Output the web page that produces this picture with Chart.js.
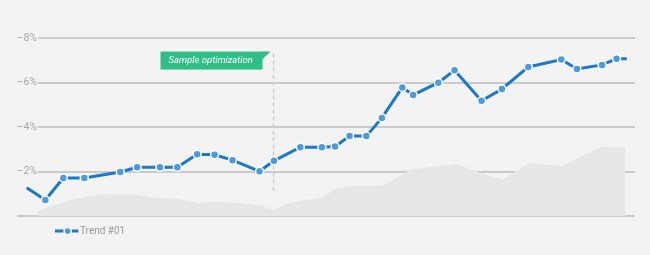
<!DOCTYPE html>
<html><head><meta charset="utf-8">
<script src="https://cdn.jsdelivr.net/npm/chart.js@4.4.1/dist/chart.umd.min.js"></script>
<style>html,body{margin:0;padding:0;background:#f3f3f3;}canvas{display:block}</style>
</head><body>
<canvas id="c" width="650" height="255"></canvas>
<script>
// ---- data ----
const seriesLabel = 'Trend #01';
const trendX = [0, 3.1, 6.1, 9.6, 15.6, 18.4, 22.2, 25.1, 28.4, 31.3, 34.3, 38.8, 41.2, 45.6, 49.2, 51.4, 53.8, 56.6, 59.2, 62.6, 64.4, 68.6, 71.3, 75.8, 79.2, 83.6, 89.1, 91.7, 95.9, 98.3, 100];
const trendY = [1.27, 0.72, 1.71, 1.71, 1.98, 2.19, 2.19, 2.19, 2.78, 2.75, 2.51, 2.01, 2.48, 3.09, 3.09, 3.12, 3.59, 3.59, 4.41, 5.78, 5.44, 5.99, 6.55, 5.18, 5.71, 6.70, 7.03, 6.61, 6.79, 7.07, 7.07];
const areaX = [0.3, 3.6, 8.1, 12.5, 18.6, 21.4, 25.3, 28.6, 31.4, 35.8, 39.2, 41.1, 43.6, 46.4, 49.0, 51.4, 53.9, 59.2, 64.2, 71.7, 74.4, 79.2, 83.8, 89.2, 95.8, 99.7, 99.7];
const areaY = [0, 0.42, 0.77, 0.98, 0.95, 0.82, 0.77, 0.57, 0.64, 0.57, 0.45, 0.27, 0.57, 0.72, 0.80, 1.22, 1.35, 1.35, 2.10, 2.33, 2.07, 1.62, 2.37, 2.25, 3.11, 3.06, 0];
const yTickValues = [0, 2, 4, 6, 8];
const yTickLabels = ['', '–2%', '–4%', '–6%', '–8%'];
const annotationX = 41.1;
const annotationText = 'Sample optimization';
const annotationRange = [1.1, 7.3];

// ---- styles ----
const FONT = 'Roboto, "Open Sans", sans-serif';
const LINE_BLUE = '#1a78cf';
const DOT_BLUE = '#4b9be0';
const GRID = '#cbcbcb';

const trendData = trendX.map((x, i) => ({x, y: trendY[i]}));
const areaData = areaX.map((x, i) => ({x, y: areaY[i]}));
const pointRadii = trendX.map((_, i) => (i === 0 || i === trendX.length - 1) ? 0 : 4);

// legend marker: line with dot
const legendMark = document.createElement('canvas');
legendMark.width = 35; legendMark.height = 10;
(function(){
  const g = legendMark.getContext('2d');
  g.strokeStyle = LINE_BLUE; g.lineWidth = 3;
  g.beginPath(); g.moveTo(11, 5); g.lineTo(34.3, 5); g.stroke();
  g.beginPath(); g.arc(23.7, 5, 3.6, 0, Math.PI * 2);
  g.fillStyle = DOT_BLUE; g.fill();
  g.lineWidth = 1.5; g.strokeStyle = '#ffffff'; g.stroke();
})();

const annotationPlugin = {
  id: 'flagAnnotation',
  beforeDatasetsDraw(chart) {
    const {ctx, scales: {x, y}} = chart;
    const px = Math.round(x.getPixelForValue(annotationX)) + 0.5;
    const yTop = y.getPixelForValue(annotationRange[1]);
    const yBot = y.getPixelForValue(annotationRange[0]);
    ctx.save();
    ctx.strokeStyle = '#cfcfcf'; ctx.lineWidth = 1.5; ctx.setLineDash([4, 3]);
    ctx.beginPath(); ctx.moveTo(px, yTop); ctx.lineTo(px, yBot); ctx.stroke();
    ctx.setLineDash([]);
    const right = px - 11, left = right - 102, top = yTop - 2, h = 18;
    ctx.fillStyle = '#2ebf87';
    ctx.fillRect(left, top, right - left, h);
    ctx.beginPath(); ctx.moveTo(right - 0.5, top); ctx.lineTo(right + 8, top); ctx.lineTo(right - 0.5, top + 8); ctx.closePath(); ctx.fill();
    ctx.fillStyle = '#ffffff';
    ctx.font = 'italic 9.5px ' + FONT;
    ctx.textBaseline = 'middle'; ctx.textAlign = 'left';
    ctx.fillText(annotationText, left + 8, top + h / 2 + 0.5);
    ctx.restore();
  }
};

new Chart(document.getElementById('c'), {
  type: 'line',
  data: {
    datasets: [
      {
        label: seriesLabel,
        data: trendData,
        borderColor: LINE_BLUE,
        borderWidth: 3,
        backgroundColor: DOT_BLUE,
        pointBackgroundColor: DOT_BLUE,
        pointBorderColor: '#ffffff',
        pointBorderWidth: 1.5,
        pointRadius: pointRadii,
        tension: 0,
        fill: false,
        clip: false,
        order: 1
      },
      {
        label: 'background',
        data: areaData,
        borderWidth: 0,
        borderColor: 'rgba(0,0,0,0)',
        backgroundColor: '#e6e6e6',
        pointRadius: 0,
        fill: 'origin',
        tension: 0,
        order: 2
      }
    ]
  },
  options: {
    responsive: false,
    animation: false,
    events: [],
    layout: { padding: { left: 17, right: 15, top: 38, bottom: 9 } },
    scales: {
      x: { type: 'linear', display: false, min: 1.88, max: 101.38 },
      y: {
        min: 0, max: 8,
        afterFit: s => { s.width = 21; },
        afterBuildTicks: s => { s.ticks = yTickValues.map(v => ({value: v})); },
        border: { display: false },
        grid: {
          color: GRID, lineWidth: 2, drawTicks: true, tickLength: 21, tickWidth: 2,
          tickColor: c => (c.tick && c.tick.value === 0) ? GRID : 'rgba(0,0,0,0)'
        },
        ticks: {
          padding: -20,
          color: '#a9a9a9',
          font: { family: FONT, size: 10.5 },
          callback: v => yTickLabels[yTickValues.indexOf(v)]
        }
      }
    },
    plugins: {
      tooltip: { enabled: false },
      legend: {
        position: 'bottom',
        align: 'start',
        fullSize: false,
        labels: {
          usePointStyle: true,
          pointStyle: legendMark,
          pointStyleWidth: 27,
          padding: 10,
          color: '#9a9a9a',
          font: { family: FONT, size: 10 },
          filter: item => item.datasetIndex === 0
        }
      }
    }
  },
  plugins: [annotationPlugin]
});
</script>
</body></html>
